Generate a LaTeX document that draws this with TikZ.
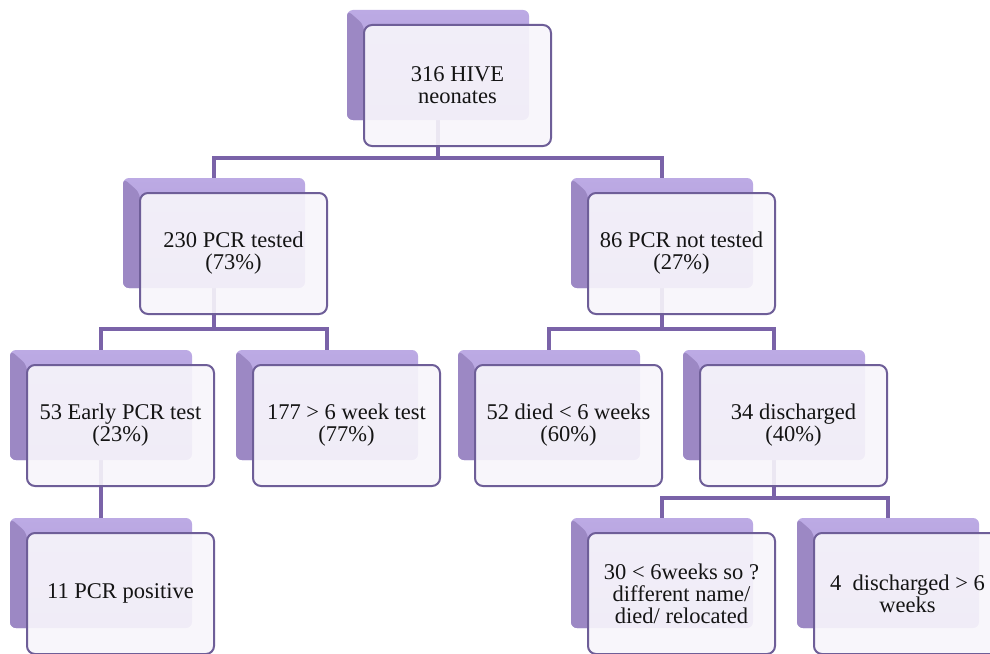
\documentclass[tikz,border=0pt]{standalone}
\usepackage{fontspec}
\setmainfont{Liberation Serif}
\usetikzlibrary{backgrounds}
\definecolor{conncol}{HTML}{7A63A8}
\definecolor{framecol}{HTML}{6E5E98}
\definecolor{shadtop}{HTML}{BCAAE4}
\definecolor{shadbot}{HTML}{AC98D8}
\definecolor{shadleft}{HTML}{9C88C4}
\definecolor{frontfill}{HTML}{F8F6FB}
\definecolor{textcol}{HTML}{141414}
\newcommand\mybox[4]{%
  \node[shadowbox,anchor=north west] (s#1) at (#2,#3) {};
  \node[frontbox,anchor=north west] (f#1) at ({#2+17},{#3+15}) {#4};}
\begin{document}
\begin{tikzpicture}[x=1bp,y=-1bp,
  shadowbox/.style={draw=none, rounded corners=6bp, minimum width=182bp, minimum height=110bp,
    inner sep=0pt, outer sep=0pt, top color=shadtop, bottom color=shadbot,
    path picture={\fill[shadleft] (path picture bounding box.north west) -- ++(17,15) -- ++(0,200) -- ++(-17,0) -- cycle;}},
  frontbox/.style={draw=framecol, line width=2bp, rounded corners=8bp, fill=frontfill, fill opacity=0.9,
    text opacity=1, minimum width=187bp, minimum height=121bp, inner sep=2bp, outer sep=0pt,
    align=center, text=textcol, font=\fontsize{22.5bp}{22bp}\selectfont},
  conn/.style={draw=conncol, line width=4.5bp}]
\useasboundingbox (0,0) rectangle (990,654);
\clip (0,0) rectangle (990,654);
\mybox{1}{347}{10}{316 HIVE\\neonates}
\mybox{2}{123}{178}{230 PCR tested\\(73\%)}
\mybox{86}{571}{178}{86 PCR not tested\\(27\%)}
\mybox{53}{10}{350}{53 Early PCR test\\(23\%)}
\mybox{177}{236}{350}{177 > 6 week test\\(77\%)}
\mybox{52}{458}{350}{52 died < 6 weeks\\(60\%)}
\mybox{34}{683}{350}{34 discharged\\(40\%)}
\mybox{11}{10}{518}{11 PCR positive}
\mybox{30}{571}{518}{30 < 6weeks so ?\\different name/\\died/ relocated}
\mybox{4}{797}{518}{4\ \ discharged > 6\\weeks}
\begin{scope}[on background layer]
\fill[white] (0,0) rectangle (990,654);
\draw[conn] (s1.south) -- (s1.south |- 0,158) -| (s2.north);
\draw[conn] (s1.south) -- (s1.south |- 0,158) -| (s86.north);
\draw[conn] (s2.south) -- (s2.south |- 0,329) -| (s53.north);
\draw[conn] (s2.south) -- (s2.south |- 0,329) -| (s177.north);
\draw[conn] (s86.south) -- (s86.south |- 0,329) -| (s52.north);
\draw[conn] (s86.south) -- (s86.south |- 0,329) -| (s34.north);
\draw[conn] (s53.south) -- (s11.north);
\draw[conn] (s34.south) -- (s34.south |- 0,498) -| (s30.north);
\draw[conn] (s34.south) -- (s34.south |- 0,498) -| (s4.north);
\end{scope}
\end{tikzpicture}
\end{document}
